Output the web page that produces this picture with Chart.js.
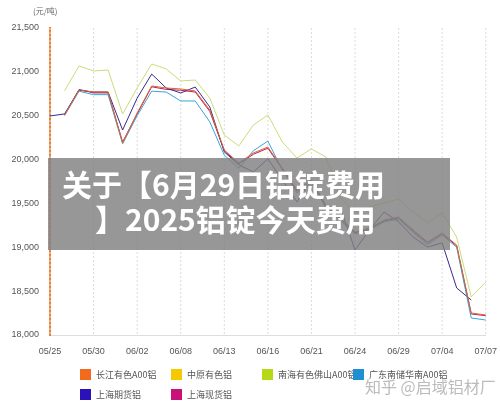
<!DOCTYPE html>
<html><head><meta charset="utf-8">
<script src="https://cdn.jsdelivr.net/npm/chart.js@4"></script>
<style>
body{margin:0;background:#fff;font-family:"Noto Sans CJK SC",sans-serif;}
#wrap{position:relative;width:500px;height:408px;}
canvas{position:absolute;left:0;top:0;}
.lg{position:absolute;font-size:9px;color:#555;display:flex;align-items:center;}
.lg i{display:inline-block;width:11px;height:11px;margin-right:5px;}
#banner{position:absolute;left:48px;top:158px;width:402px;height:92px;background:rgba(128,128,128,0.82);}
.bt{position:absolute;color:#fff;font-weight:bold;font-size:30px;line-height:34px;white-space:nowrap;}
#wm{position:absolute;left:365px;top:374px;color:#bbb;font-size:16px;}
</style></head><body>
<div id="wrap"><canvas id="c" width="500" height="408"></canvas>
<div id="banner"></div>
<div class="bt" style="left:62px;top:166px">关于【6月29日铝锭费用</div>
<div class="bt" style="left:95px;top:201px">】2025铝锭今天费用</div>
<div class="lg" style="left:80px;top:368px"><i style="background:#f26a1b"></i>长江有色A00铝</div>
<div class="lg" style="left:171px;top:368px"><i style="background:#f5c800"></i>中原有色铝</div>
<div class="lg" style="left:262px;top:368px"><i style="background:#b5d916"></i>南海有色佛山A00铝</div>
<div class="lg" style="left:353px;top:368px"><i style="background:#1e8fd0"></i>广东南储华南A00铝</div>
<div class="lg" style="left:80px;top:388px"><i style="background:#2a12b8"></i>上海期货铝</div>
<div class="lg" style="left:171px;top:388px"><i style="background:#c8127a"></i>上海现货铝</div>
<div id="wm">知乎 @启域铝材厂</div>
</div>
<script>
const dates=["05/25","","","05/30","","","06/02","","","06/08","","","06/13","","","06/16","","","06/21","","","06/24","","","06/29","","","07/04","","","07/07"];
const changjiang=[null,20508,20793,20770,20770,20189,20531,20839,20816,20805,20782,20565,20109,19961,20075,20143,19904,19653,19767,19482,19334,19174,19220,19311,19345,19197,19060,19163,19026,18251,18228];
const zhongyuan=[];
const nanhai=[null,20785,21067,21010,21021,20520,20816,21090,21033,20896,20907,20702,20280,20155,20394,20508,20200,20018,20121,20030,19562,19402,19460,19505,19550,19402,19277,19391,19117,18433,18604];
const guangdong=[null,20500,20780,20740,20740,20180,20500,20780,20770,20668,20668,20430,20050,19900,20100,20211,19880,19620,19740,19450,19300,19150,19200,19290,19320,19170,19030,19140,19000,18194,18171];
const shfe=[20497,20520,20790,20770,20770,20337,20700,20975,20816,20759,20827,20600,20087,19940,19858,20007,19767,19516,19767,19448,19448,18969,19200,19402,19290,19117,19003,19050,18536,18399,null];
const spot=[null,20510,20800,20760,20760,20200,20520,20830,20800,20790,20770,20550,20100,19950,20060,20130,19890,19640,19760,19470,19320,19165,19210,19300,19335,19185,19050,19155,19015,18240,18220];
const ds=(d,c)=>({data:d,borderColor:c,borderWidth:1,pointRadius:0,tension:0,fill:false,spanGaps:false});
new Chart(document.getElementById('c'),{type:'line',
data:{labels:dates,datasets:[ds(changjiang,'#e0642a'),ds(zhongyuan,'#f5c800'),ds(nanhai,'#c9dc7a'),ds(guangdong,'#3aa3d6'),ds(shfe,'#3a2a8a'),ds(spot,'#b01e6a')]},
options:{responsive:false,animation:false,layout:{padding:{top:28,right:13,bottom:49,left:0}},
plugins:{legend:{display:false},tooltip:{enabled:false}},
scales:{x:{offset:false,grid:{display:false},border:{display:true,color:'#ddd'},
 ticks:{autoSkip:false,maxRotation:0,color:'#555',font:{size:9},callback:(v,i)=>dates[i]},
 afterFit:s=>{s.height=24;}},
 y:{min:18000,max:21500,grid:{display:false},border:{color:'#f08030',width:2},
 ticks:{stepSize:500,color:'#555',font:{size:9},callback:v=>v.toLocaleString('en-US')},
 afterFit:s=>{s.width=50;}}}},
plugins:[{id:'t',beforeDatasetsDraw(c){const x=c.ctx;x.save();
 const xs=c.scales.x;x.strokeStyle='#dcdcdc';x.setLineDash([2,2]);for(let i=0;i<dates.length;i+=3){const p=xs.getPixelForValue(i);x.beginPath();x.moveTo(p,c.chartArea.top);x.lineTo(p,c.chartArea.bottom);x.stroke();}x.restore();},
 afterDraw(c){const x=c.ctx;x.save();x.fillStyle='#666';x.font='8px "Noto Sans CJK SC"';x.fillText('(元/吨)',33,14);x.restore();}}]
});
</script></body></html>
